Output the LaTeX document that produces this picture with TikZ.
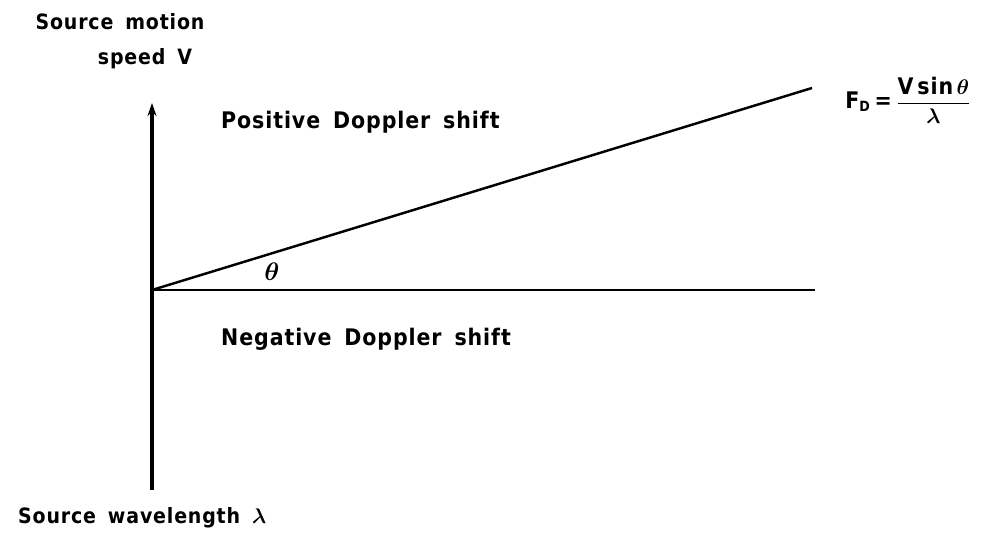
\documentclass[tikz,border=0pt]{standalone}
\usepackage{amsmath}
\usepackage{fontspec}
\setmainfont{DejaVu Sans Condensed}[LetterSpace=4,WordSpace=1.6]
\usetikzlibrary{arrows.meta}

\begin{document}
\begin{tikzpicture}[x=1cm,y=1cm,
  lbl/.style={font=\fontsize{13}{15}\selectfont\bfseries},
  axislbl/.style={font=\fontsize{12}{14}\selectfont\bfseries},
  axisline/.style={line width=2.4pt},
  thinline/.style={line width=1.4pt}]
\path[use as bounding box] (0,0) rectangle (19.80,10.84);
% axes
\coordinate (O) at (3.04,5.04);
\coordinate (top) at (3.04,8.78);
\coordinate (bot) at (3.04,1.04);
\coordinate (hend) at (16.30,5.04);
\coordinate (send) at (16.24,9.08);
\draw[axisline,-{Stealth[length=2.6mm,width=1.8mm]}] (bot) -- (top);
\draw[thinline] (O) -- (hend);
\draw[thinline] (O) -- (send);
% labels
\node[axislbl] (ylab1) at (2.40,10.40) {Source motion};
\node[axislbl] (ylab2) at (2.90,9.66) {speed V};
\node[lbl,anchor=west] (pos) at (4.30,8.40) {Positive Doppler shift};
\node[lbl,anchor=west] (neg) at (4.30,4.06) {Negative Doppler shift};
\node[axislbl,anchor=west] (xlab) at (0.24,0.48) {Source wavelength $\boldsymbol{\lambda}$};
\node[lbl,font=\fontsize{15}{17}\selectfont] (theta) at (5.44,5.40) {$\boldsymbol{\theta}$};
\node[lbl,anchor=west,inner sep=0pt] (fd) at (16.90,8.84) {F$_{\textbf{\footnotesize D}}$\,=\,$\displaystyle\frac{\mbox{V\,sin}\,\boldsymbol{\theta}}{\boldsymbol{\lambda}}$};
\end{tikzpicture}
\end{document}
